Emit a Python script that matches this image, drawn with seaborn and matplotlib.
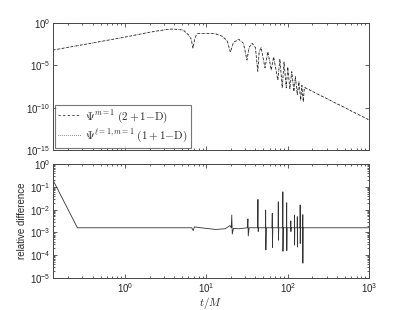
import numpy as np
import pandas as pd
import matplotlib
matplotlib.use('Agg')
import matplotlib.pyplot as plt
import matplotlib.ticker as mticker
import seaborn as sns

sns.set_style('ticks')
plt.rcParams['font.family'] = ['Liberation Sans', 'DejaVu Sans']
plt.rcParams['mathtext.fontset'] = 'cm'

# waveform |Psi| (t/M, log10 value)
psi_t = [0.13, 0.3, 1.0, 2.0, 3.0, 3.7, 4.5, 5.2, 6.0, 6.5, 6.84, 7.2, 7.7, 10.0, 12.9, 15.5,
         18.0, 19.7, 21.5, 25.0, 28.5, 31.5, 33.5, 36.4, 40.0, 42.8, 44.5, 47.0, 52.5, 57.0,
         62.6, 67.0, 75.5, 80.0, 85.5, 90.0, 95.8, 100.0, 106.0, 112.0, 119.0, 124.0,
         131.0, 137.0, 144.0, 149.0, 155.0, 160.0, 1000.0]
psi_log = [-3.2, -2.58, -1.67, -1.1, -0.82, -0.72, -0.76, -0.85, -1.4, -1.9, -3.0, -1.8, -1.27,
           -1.22, -1.27, -1.55, -2.1, -3.45, -2.3, -1.93, -2.4, -4.37, -2.9, -2.4, -2.9, -5.7,
           -3.4, -2.9, -5.3, -3.4, -5.55, -4.0, -6.75, -4.25, -7.65, -4.6, -7.65, -5.2, -7.8,
           -5.75, -8.1, -6.35, -8.5, -6.95, -9.1, -7.35, -9.3, -7.6, -11.45]

# relative difference
rel_t = [0.13, 0.26, 6.6, 6.9, 7.1, 8.0, 13.0, 17.0, 19.5,
         20.2, 20.5, 20.8, 21.5, 25.0, 31.8, 32.4, 32.7, 33.5,
         42.5, 43.0, 43.3, 44.0, 53.0, 53.5, 53.8, 54.5,
         64.0, 64.5, 64.8, 65.5, 76.0, 76.5, 76.8, 77.5,
         86.5, 87.0, 87.3, 88.0, 96.5, 97.0, 97.3, 98.0,
         108.5, 109.0, 109.3, 110.0, 120.5, 121.0, 121.3, 122.0,
         130.5, 131.0, 131.3, 132.0, 141.5, 142.0, 142.3, 143.0,
         152.5, 153.0, 153.3, 154.0, 1000.0]
rel_val = [0.2, 1.6e-3, 1.6e-3, 1.2e-3, 1.75e-3, 1.65e-3, 1.35e-3, 1.45e-3, 2.0e-3,
           1.6e-3, 5.8e-3, 8.5e-4, 1.5e-3, 1.45e-3, 1.6e-3, 3.9e-3, 7.0e-4, 1.6e-3,
           1.6e-3, 2.8e-2, 1.1e-3, 1.6e-3, 1.6e-3, 9.6e-3, 1.7e-4, 1.6e-3,
           1.6e-3, 6.9e-3, 2.2e-4, 1.6e-3, 1.6e-3, 2.2e-2, 4.6e-4, 1.6e-3,
           1.6e-3, 6.0e-2, 1.5e-4, 1.6e-3, 1.6e-3, 2.0e-2, 1.6e-4, 1.6e-3,
           1.6e-3, 3.2e-3, 1.1e-3, 1.6e-3, 1.6e-3, 5.8e-3, 2.8e-4, 1.6e-3,
           1.6e-3, 4.9e-3, 2.3e-4, 1.6e-3, 1.6e-3, 1.6e-2, 3.3e-4, 1.6e-3,
           1.6e-3, 6.0e-3, 4.5e-5, 1.6e-3, 1.6e-3]

df_psi = pd.DataFrame({'t': psi_t, 'psi': 10.0 ** np.array(psi_log)})
df_rel = pd.DataFrame({'t': rel_t, 'rel': rel_val})

fig = plt.figure(figsize=(4.07, 3.10), dpi=100)
ax1 = fig.add_axes([0.130, 0.516, 0.777, 0.410])
ax2 = fig.add_axes([0.130, 0.103, 0.777, 0.368])

sns.lineplot(data=df_psi, x='t', y='psi', ax=ax1, sort=False, estimator=None,
             color='#222222', lw=0.55, linestyle=(0, (3, 3)),
             label=r'$\Psi^{m=1}\ (2+1\mathrm{-D})$')
sns.lineplot(data=df_psi, x='t', y='psi', ax=ax1, sort=False, estimator=None,
             color='#222222', lw=0.55, linestyle=(0, (0.8, 1.8)),
             label=r'$\Psi^{\ell=1,m=1}\ (1+1\mathrm{-D})$')
sns.lineplot(data=df_rel, x='t', y='rel', ax=ax2, sort=False, estimator=None,
             color='#333333', lw=0.6)

for ax in (ax1, ax2):
    ax.set_xscale('log')
    ax.set_yscale('log')
    ax.set_xlim(0.13, 1000)
    ax.tick_params(which='both', direction='in', top=True, right=True, pad=2,
                   labelsize=7, color='#444444', width=0.6)
    ax.tick_params(which='major', length=3)
    ax.tick_params(which='minor', length=1.6)
    ax.xaxis.set_major_locator(mticker.LogLocator(base=10, numticks=10))
    ax.xaxis.set_minor_locator(mticker.LogLocator(base=10, subs=np.arange(2, 10), numticks=20))
    for s in ax.spines.values():
        s.set_color('#444444')
        s.set_linewidth(0.7)

ax1.set_ylim(1e-15, 1)
ax1.set_yticks([1e-15, 1e-10, 1e-5, 1])
ax1.yaxis.set_minor_locator(mticker.NullLocator())
ax1.tick_params(axis='x', which='both', labelbottom=False)
ax1.set_xlabel('')
ax1.set_ylabel('')

ax2.set_ylim(1e-5, 1)
ax2.yaxis.set_major_locator(mticker.LogLocator(base=10, numticks=10))
ax2.yaxis.set_minor_locator(mticker.LogLocator(base=10, subs=np.arange(2, 10), numticks=20))
ax2.yaxis.set_minor_formatter(mticker.NullFormatter())
ax2.set_xlabel(r'$t/M$', fontsize=8, labelpad=0)
ax2.set_ylabel('relative difference', fontsize=7, labelpad=2)

leg = ax1.legend(loc='lower left', fontsize=8, frameon=True, fancybox=False,
                 edgecolor='#555555', handlelength=2.0, handletextpad=0.4,
                 borderpad=0.3, labelspacing=0.25, borderaxespad=0.2)
leg.get_frame().set_linewidth(0.8)

fig.savefig('out.png', dpi=100)
